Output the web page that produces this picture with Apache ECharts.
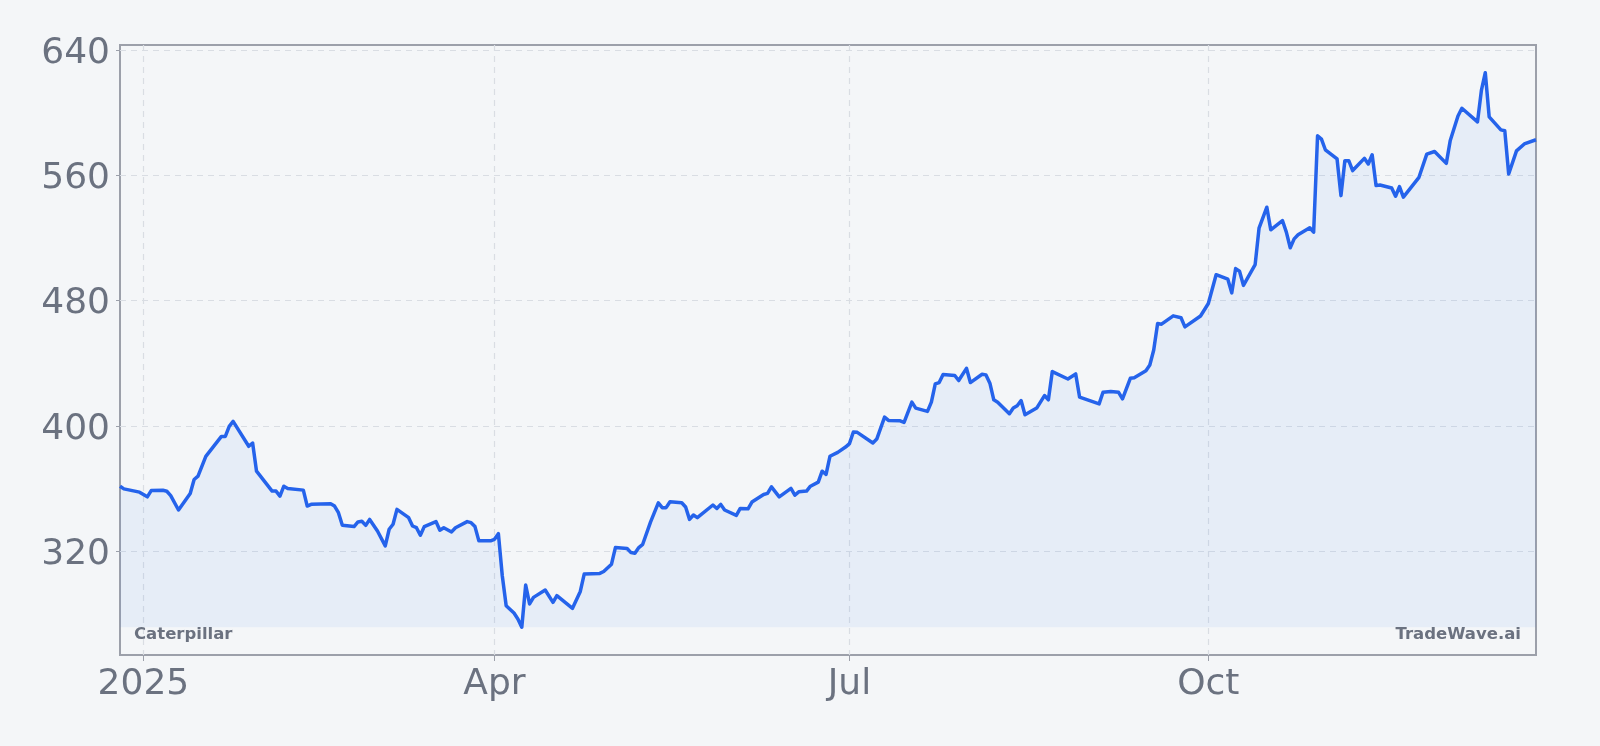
<!DOCTYPE html>
<html>
<head>
<meta charset="utf-8">
<script src="https://cdn.jsdelivr.net/npm/echarts@6/dist/echarts.min.js"></script>
<style>
  html, body { margin: 0; padding: 0; background: #f4f6f8; }
  #chart { width: 1600px; height: 746px; }
</style>
</head>
<body>
<div id="chart"></div>
<script>
// ---- data ----
const dates = [
  '2024-12-26','2024-12-27','2024-12-31','2025-01-02','2025-01-03','2025-01-06','2025-01-07','2025-01-08','2025-01-10',
  '2025-01-13','2025-01-14','2025-01-15','2025-01-17','2025-01-21','2025-01-22','2025-01-23','2025-01-24','2025-01-28',
  '2025-01-29','2025-01-30','2025-02-03','2025-02-04','2025-02-05','2025-02-06','2025-02-07','2025-02-11','2025-02-12',
  '2025-02-13','2025-02-18','2025-02-19','2025-02-20','2025-02-21','2025-02-24','2025-02-25','2025-02-26','2025-02-27',
  '2025-02-28','2025-03-02','2025-03-04','2025-03-05','2025-03-06','2025-03-07','2025-03-10','2025-03-11','2025-03-12',
  '2025-03-13','2025-03-14','2025-03-17','2025-03-18','2025-03-19','2025-03-21','2025-03-22','2025-03-25','2025-03-26',
  '2025-03-27','2025-03-28','2025-03-31','2025-04-01','2025-04-02','2025-04-03','2025-04-04','2025-04-06','2025-04-07',
  '2025-04-08','2025-04-09','2025-04-10','2025-04-11','2025-04-14','2025-04-16','2025-04-17','2025-04-21','2025-04-23',
  '2025-04-24','2025-04-28','2025-04-29','2025-05-01','2025-05-02','2025-05-05','2025-05-06','2025-05-07','2025-05-08',
  '2025-05-09','2025-05-11','2025-05-13','2025-05-14','2025-05-15','2025-05-16','2025-05-19','2025-05-20','2025-05-21',
  '2025-05-22','2025-05-23','2025-05-27','2025-05-28','2025-05-29','2025-05-30','2025-06-02','2025-06-03','2025-06-05',
  '2025-06-06','2025-06-09','2025-06-10','2025-06-11','2025-06-13','2025-06-16','2025-06-17','2025-06-18','2025-06-20',
  '2025-06-21','2025-06-23','2025-06-24','2025-06-25','2025-06-26','2025-06-28','2025-06-30','2025-07-01','2025-07-02',
  '2025-07-03','2025-07-07','2025-07-08','2025-07-10','2025-07-11','2025-07-14','2025-07-15','2025-07-17','2025-07-18',
  '2025-07-21','2025-07-22','2025-07-23','2025-07-24','2025-07-25','2025-07-28','2025-07-29','2025-07-31','2025-08-01',
  '2025-08-04','2025-08-05','2025-08-06','2025-08-07','2025-08-08','2025-08-11','2025-08-12','2025-08-13','2025-08-14',
  '2025-08-15','2025-08-18','2025-08-20','2025-08-21','2025-08-22','2025-08-26','2025-08-28','2025-08-29','2025-09-03',
  '2025-09-04','2025-09-06','2025-09-08','2025-09-09','2025-09-11','2025-09-12','2025-09-15','2025-09-16','2025-09-17',
  '2025-09-18','2025-09-19','2025-09-22','2025-09-24','2025-09-25','2025-09-29','2025-10-01','2025-10-03','2025-10-06',
  '2025-10-07','2025-10-08','2025-10-09','2025-10-10','2025-10-13','2025-10-14','2025-10-16','2025-10-17','2025-10-20',
  '2025-10-21','2025-10-22','2025-10-23','2025-10-24','2025-10-27','2025-10-28','2025-10-29','2025-10-30','2025-10-31',
  '2025-11-03','2025-11-04','2025-11-05','2025-11-06','2025-11-07','2025-11-10','2025-11-11','2025-11-12','2025-11-13',
  '2025-11-14','2025-11-17','2025-11-18','2025-11-19','2025-11-20','2025-11-24','2025-11-26','2025-11-28','2025-12-01',
  '2025-12-02','2025-12-04','2025-12-05','2025-12-09','2025-12-10','2025-12-11','2025-12-12','2025-12-15','2025-12-16',
  '2025-12-17','2025-12-19','2025-12-21','2025-12-24'
];
const prices = [
  361.4,359.7,357.6,354.6,358.6,358.8,358.2,355.4,346.2,
  356.8,365.7,367.8,380.5,393.2,393.2,399.6,402.8,386.9,
  389.0,371.0,358.3,358.3,355.1,361.4,360.0,358.9,348.7,
  349.8,350.2,348.7,344.5,336.4,335.6,338.6,339.0,336.4,
  340.2,332.8,323.3,333.9,337.1,346.6,341.3,336.0,334.9,
  330.1,335.6,338.8,333.3,334.9,332.2,334.9,338.8,338.1,
  335.6,326.5,326.5,327.5,331.1,304.2,285.1,280.4,276.6,
  271.3,298.3,286.2,290.4,295.1,287.2,291.5,283.4,294.2,
  305.3,305.7,306.9,311.6,322.2,321.6,319.0,318.6,322.2,
  324.3,338.5,350.8,347.7,347.7,351.5,350.8,348.1,340.2,
  343.0,341.3,349.4,347.2,349.8,346.2,342.8,347.2,347.0,
  351.3,356.1,356.8,361.0,354.6,360.0,355.7,357.8,358.3,
  361.4,364.0,371.0,368.9,380.5,383.0,386.4,388.6,396.0,
  395.8,389.0,391.5,405.5,403.4,403.2,402.2,415.1,411.3,
  409.2,415.1,426.7,427.6,432.7,432.1,428.9,436.7,427.6,
  432.9,432.5,427.2,416.6,415.1,407.7,411.3,412.8,416.1,
  407.0,411.3,419.3,416.6,434.6,429.9,433.1,418.3,414.0,
  421.4,421.9,421.4,417.2,430.3,430.7,435.2,438.8,448.4,
  465.3,464.9,470.2,469.0,463.2,470.1,478.1,496.5,493.6,
  484.9,500.4,498.7,489.7,502.9,526.2,539.6,525.2,531.1,
  523.7,513.7,519.4,522.0,526.5,523.7,585.2,583.1,576.3,
  570.4,547.0,569.3,569.3,563.0,570.8,567.2,573.1,553.4,
  553.8,551.9,546.6,552.8,546.0,558.7,573.5,575.2,567.6,
  582.0,597.9,602.8,594.1,614.2,625.5,597.3,589.0,588.4,
  560.8,575.6,580.0,582.7
];
const yTickValues = [320, 400, 480, 560, 640];
const xTickDates = ['2025-01-01', '2025-04-01', '2025-07-01', '2025-10-01'];
const xTickLabels = ['2025', 'Apr', 'Jul', 'Oct'];
const companyName = 'Caterpillar';
const brandName = 'TradeWave.ai';

// ---- build ----
function toTs(s) { const p = s.split('-').map(Number); return Date.UTC(p[0], p[1] - 1, p[2]); }
const seriesData = dates.map((d, i) => [toTs(d), prices[i]]);
const xTicks = xTickDates.map(toTs);
const dataMin = Math.min.apply(null, prices);
const dataMax = Math.max.apply(null, prices);
const pad = (dataMax - dataMin) * 0.05;

const chart = echarts.init(document.getElementById('chart'), null, { renderer: 'canvas' });
const gridColor = '#d9dde3';
const axisGray = '#9ca0aa';
const textGray = '#6b7280';
const FONT = 'DejaVu Sans';

chart.setOption({
  backgroundColor: '#f4f6f8',
  animation: false,
  grid: {
    left: 120, right: 64, top: 45, bottom: 91,
    show: true, borderColor: axisGray, borderWidth: 2, backgroundColor: 'transparent'
  },
  xAxis: {
    type: 'value',
    min: seriesData[0][0],
    max: seriesData[seriesData.length - 1][0],
    axisLine: { show: false },
    axisTick: { show: true, length: 6, lineStyle: { color: axisGray, width: 1 }, customValues: xTicks },
    axisLabel: {
      customValues: xTicks,
      color: textGray, fontSize: 36, fontFamily: FONT, margin: 12,
      formatter: function (v) {
        const i = xTicks.indexOf(v);
        return i >= 0 ? xTickLabels[i] : '';
      }
    },
    splitLine: { show: true, lineStyle: { color: gridColor, type: [6, 5], width: 1.2 } }
  },
  yAxis: {
    type: 'value',
    min: dataMin - pad,
    max: dataMax + pad,
    axisLine: { show: false },
    axisTick: { show: true, length: 4, lineStyle: { color: axisGray, width: 1 }, customValues: yTickValues },
    axisLabel: {
      customValues: yTickValues, color: textGray, fontSize: 36, fontFamily: FONT, margin: 10,
      verticalAlign: 'top', lineHeight: 7
    },
    splitLine: { show: true, lineStyle: { color: gridColor, type: [6, 5], width: 1.2 } }
  },
  graphic: [
    { type: 'text', left: 134, top: 626, z: 100,
      style: { text: companyName, font: 'bold 16.5px "DejaVu Sans"', fill: textGray } },
    { type: 'text', right: 79, top: 626, z: 100,
      style: { text: brandName, font: 'bold 16.5px "DejaVu Sans"', fill: textGray } }
  ],
  series: [{
    type: 'line',
    data: seriesData,
    showSymbol: false,
    symbol: 'none',
    smooth: false,
    lineStyle: { color: '#2563eb', width: 3.5, join: 'round' },
    areaStyle: { color: 'rgba(59,130,246,0.1)', origin: dataMin },
    z: 3
  }]
});
</script>
</body>
</html>
